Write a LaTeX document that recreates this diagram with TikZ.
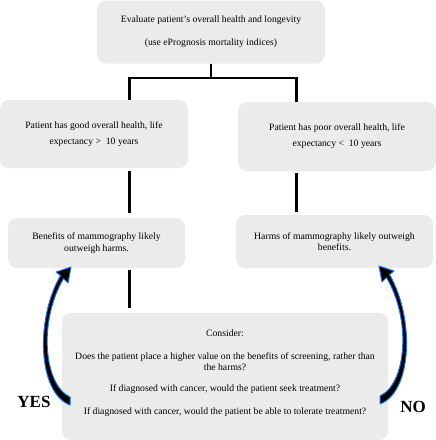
\documentclass[tikz,border=0pt]{standalone}
\usepackage{fontspec}
\setmainfont{Liberation Serif}
\usetikzlibrary{calc}
\definecolor{boxgray}{RGB}{235,235,235}
\definecolor{arrowblue}{RGB}{25,115,235}
\tikzset{
   box/.style={fill=boxgray, rounded corners=9pt, align=center, inner sep=0pt,
      font=\fontsize{9.7}{11.5}\selectfont},
   link/.style={draw=black, line width=2.7pt},
   swoosh/.style={fill=black, draw=arrowblue, line width=1pt, line join=round},
   answer/.style={font=\fontsize{17}{19}\selectfont\bfseries},
   pics/swoosh/.style={code={
      \fill[swoosh] (0,-4) .. controls (-26,-16) and (-32,-79) .. (-6.5,-122.5)
         -- (-2,-118) -- (1,-134) -- (-14,-129) -- (-9.5,-125.5)
         .. controls (-35,-81) and (-32,-8) .. (0,4) -- cycle;
   }},
}
\begin{document}
\begin{tikzpicture}[x=1pt, y=-1pt]
\useasboundingbox (0,0) rectangle (436,440);
% boxes
\node[box, minimum width=228pt, minimum height=63pt] (eval) at (211,32)
   {Evaluate patient's overall health and longevity\\[11.5pt](use ePrognosis mortality indices)};
\node[box, minimum width=188pt, minimum height=68pt] (good) at (94,134)
   {Patient has good overall health, life\\[4.5pt]expectancy > \ 10 years};
\node[box, minimum width=198pt, minimum height=69pt] (poor) at (337,136.5)
   {Patient has poor overall health, life\\[4.5pt]expectancy < \ 10 years};
\node[box, minimum width=177pt, minimum height=50pt] (benefits) at (96.5,243)
   {Benefits of mammography likely\\[0.5pt]outweigh harms.};
\node[box, minimum width=197pt, minimum height=53pt] (harms) at (334.5,241.5)
   {Harms of mammography likely outweigh\\benefits.};
\node[box, minimum width=326pt, minimum height=127pt] (consider) at (225,376.5)
   {Consider:\\[11.5pt]
    Does the patient place a higher value on the benefits of screening, rather than\\[-0.5pt]
    the harms?\\[9.5pt]
    If diagnosed with cancer, would the patient seek treatment?\\[11.5pt]
    If diagnosed with cancer, would the patient be able to tolerate treatment?\\[-3pt]\mbox{}};
% tree
\coordinate (jl) at (129.5,78);
\coordinate (jr) at (296.5,78);
\draw[link] (eval.south) -- (eval.south |- jl);
\draw[link] (jl |- good.north) -- (jl) -- (jr) -- (jr |- poor.north);
\draw[link, shorten <=3pt, shorten >=5pt] (jl |- good.south) -- (jl |- benefits.north);
\draw[link, shorten <=2pt, shorten >=5pt] (jl |- benefits.south) -- (jl |- consider.north);
\draw[link, shorten <=2pt, shorten >=3pt] (jr |- poor.south) -- (jr |- harms.north);
% answers
\coordinate (yes tail) at (70,401);
\coordinate (no tail) at (380,400);
\pic at (yes tail) {swoosh};
\pic[xscale=-1] at (no tail) {swoosh};
\node[answer] (yes) at (34,402) {YES};
\node[answer] (no) at (413,407) {NO};
\end{tikzpicture}
\end{document}
